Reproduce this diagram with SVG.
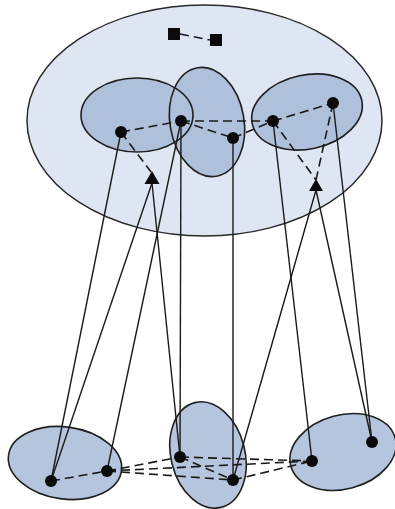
<svg xmlns="http://www.w3.org/2000/svg" width="395" height="509" viewBox="0 0 395 509">
<style>
.outer{fill:#dfe6f3;stroke:#2a2a2a;stroke-width:1.5}
.grp{fill:#afc0da;stroke:none}
.sub{fill:#b5c5de;stroke:#1f1f1f;stroke-width:1.6}
.ol{fill:none;stroke:#1f1f1f;stroke-width:1.6}
.node{fill:#0a0a0a}
.solid{stroke:#1a1a1a;stroke-width:1.4;fill:none}
.dash{stroke:#1a1a1a;stroke-width:1.6;fill:none;stroke-dasharray:9 5}
.tri{fill:#0a0a0a}
</style>
<defs>
<ellipse id="e-tl" cx="137" cy="115" rx="56" ry="37"/>
<ellipse id="e-tm" cx="207" cy="122" rx="37" ry="55" transform="rotate(-10 207 122)"/>
<ellipse id="e-tr" cx="307" cy="112" rx="56" ry="37" transform="rotate(-12 307 112)"/>
</defs>
<rect width="395" height="509" fill="#ffffff"/>
<g id="outer-ellipse"><ellipse class="outer" cx="204.5" cy="120.5" rx="177.5" ry="115.5"/></g>
<g id="group-top-left"><use href="#e-tl" class="grp"/></g>
<g id="group-top-mid"><use href="#e-tm" class="grp"/></g>
<g id="group-top-right"><use href="#e-tr" class="grp"/></g>
<g id="group-outlines"><use href="#e-tl" class="ol"/><use href="#e-tm" class="ol"/><use href="#e-tr" class="ol"/></g>
<g id="group-bot-left"><ellipse class="sub" cx="65" cy="463" rx="57" ry="36" transform="rotate(8 65 463)"/></g>
<g id="group-bot-mid"><ellipse class="sub" cx="208" cy="455" rx="37" ry="54" transform="rotate(-14 208 455)"/></g>
<g id="group-bot-right"><ellipse class="sub" cx="343" cy="452" rx="54" ry="37" transform="rotate(-15 343 452)"/></g>
<g id="connectors">
<line class="dash" x1="180" y1="34" x2="210" y2="40"/>
<line class="dash" x1="121" y1="132" x2="181" y2="121"/>
<line class="dash" x1="181" y1="121" x2="273" y2="121"/>
<line class="dash" x1="181" y1="121" x2="233" y2="138"/>
<line class="dash" x1="233" y1="138" x2="273" y2="121"/>
<line class="dash" x1="273" y1="121" x2="333" y2="103"/>
<line class="dash" x1="121" y1="132" x2="151" y2="172"/>
<line class="dash" x1="273" y1="121" x2="316" y2="180"/>
<line class="dash" x1="333" y1="103" x2="316" y2="180"/>
<line class="dash" x1="51" y1="481" x2="107" y2="471"/>
<line class="dash" x1="107" y1="471" x2="180" y2="457"/>
<line class="dash" x1="107" y1="471" x2="312" y2="461"/>
<line class="dash" x1="107" y1="471" x2="233" y2="480"/>
<line class="dash" x1="180" y1="457" x2="233" y2="480"/>
<line class="dash" x1="180" y1="457" x2="312" y2="461"/>
<line class="dash" x1="233" y1="480" x2="312" y2="461"/>
<line class="solid" x1="121" y1="132" x2="51" y2="481"/>
<line class="solid" x1="152" y1="183" x2="51" y2="481"/>
<line class="solid" x1="181" y1="121" x2="107" y2="471"/>
<line class="solid" x1="152" y1="183" x2="180" y2="457"/>
<line class="solid" x1="181" y1="121" x2="180" y2="457"/>
<line class="solid" x1="233" y1="138" x2="233" y2="480"/>
<line class="solid" x1="273" y1="121" x2="312" y2="461"/>
<line class="solid" x1="316" y1="190" x2="233" y2="480"/>
<line class="solid" x1="316" y1="190" x2="372" y2="442"/>
<line class="solid" x1="333" y1="103" x2="372" y2="442"/>
<polygon class="tri" points="152,171 144.5,184 159.5,184"/>
<polygon class="tri" points="316,179 309,191 323,191"/>
</g>
<g id="sq1"><rect class="node" x="168" y="28" width="12" height="12"/></g>
<g id="sq2"><rect class="node" x="210" y="34" width="12" height="12"/></g>
<g id="nA"><circle class="node" cx="121" cy="132" r="6"/></g>
<g id="nB"><circle class="node" cx="181" cy="121" r="6"/></g>
<g id="nC"><circle class="node" cx="233" cy="138" r="6"/></g>
<g id="nD"><circle class="node" cx="273" cy="121" r="6"/></g>
<g id="nE"><circle class="node" cx="333" cy="103" r="6"/></g>
<g id="nF"><circle class="node" cx="51" cy="481" r="6"/></g>
<g id="nG"><circle class="node" cx="107" cy="471" r="6"/></g>
<g id="nH"><circle class="node" cx="180" cy="457" r="6"/></g>
<g id="nI"><circle class="node" cx="233" cy="480" r="6"/></g>
<g id="nJ"><circle class="node" cx="312" cy="461" r="6"/></g>
<g id="nK"><circle class="node" cx="372" cy="442" r="6"/></g>
</svg>
